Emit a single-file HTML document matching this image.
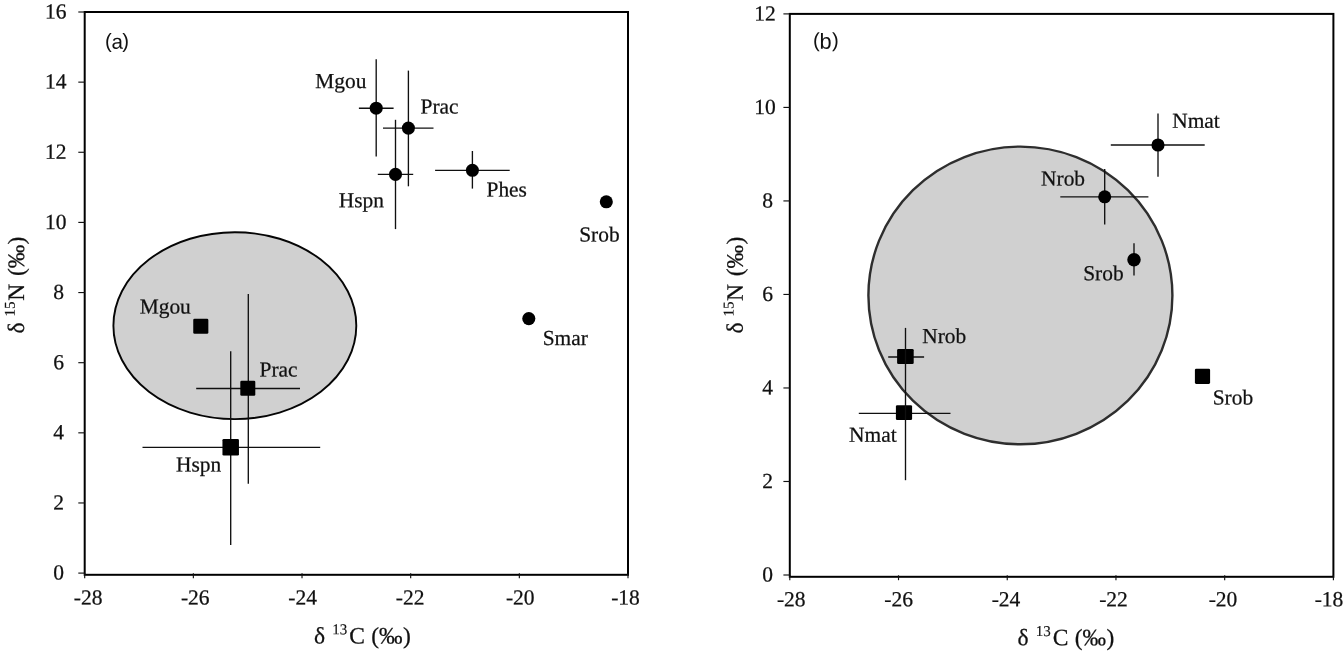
<!DOCTYPE html>
<html lang="en"><head><meta charset="utf-8"><title>Stable isotope biplots</title>
<style>
html,body{margin:0;padding:0;background:#fff;}
body{width:1344px;height:653px;overflow:hidden;}
svg{display:block;}
text.s{font-family:"Liberation Serif", "DejaVu Serif", serif;fill:#111;stroke:#111;stroke-width:0.25px;}
text.n{font-family:"Liberation Sans", "DejaVu Sans", sans-serif;fill:#111;}
</style></head><body>
<svg width="1344" height="653" viewBox="0 0 1344 653">
<rect x="0" y="0" width="1344" height="653" fill="#fff"/>
<ellipse cx="234.85" cy="325.65" rx="121.45" ry="93.45" fill="#d0d0d0" stroke="#050505" stroke-width="1.9"/>
<rect x="84.7" y="12.0" width="543.30" height="562.80" fill="none" stroke="#000" stroke-width="2.0"/>
<line x1="78.30" y1="573.10" x2="84.70" y2="573.10" stroke="#111" stroke-width="1.15"/>
<text class="s" x="63.90" y="579.60" font-size="21.5" text-anchor="end" transform="rotate(0.03 63.90 579.60)">0</text>
<line x1="78.30" y1="502.96" x2="84.70" y2="502.96" stroke="#111" stroke-width="1.15"/>
<text class="s" x="63.90" y="509.46" font-size="21.5" text-anchor="end" transform="rotate(0.03 63.90 509.46)">2</text>
<line x1="78.30" y1="432.83" x2="84.70" y2="432.83" stroke="#111" stroke-width="1.15"/>
<text class="s" x="63.90" y="439.33" font-size="21.5" text-anchor="end" transform="rotate(0.03 63.90 439.33)">4</text>
<line x1="78.30" y1="362.69" x2="84.70" y2="362.69" stroke="#111" stroke-width="1.15"/>
<text class="s" x="63.90" y="369.19" font-size="21.5" text-anchor="end" transform="rotate(0.03 63.90 369.19)">6</text>
<line x1="78.30" y1="292.55" x2="84.70" y2="292.55" stroke="#111" stroke-width="1.15"/>
<text class="s" x="63.90" y="299.05" font-size="21.5" text-anchor="end" transform="rotate(0.03 63.90 299.05)">8</text>
<line x1="78.30" y1="222.41" x2="84.70" y2="222.41" stroke="#111" stroke-width="1.15"/>
<text class="s" x="66.60" y="228.91" font-size="21.5" text-anchor="end" transform="rotate(0.03 66.60 228.91)">10</text>
<line x1="78.30" y1="152.27" x2="84.70" y2="152.27" stroke="#111" stroke-width="1.15"/>
<text class="s" x="66.60" y="158.77" font-size="21.5" text-anchor="end" transform="rotate(0.03 66.60 158.77)">12</text>
<line x1="78.30" y1="82.14" x2="84.70" y2="82.14" stroke="#111" stroke-width="1.15"/>
<text class="s" x="66.60" y="88.64" font-size="21.5" text-anchor="end" transform="rotate(0.03 66.60 88.64)">14</text>
<line x1="78.30" y1="12.00" x2="84.70" y2="12.00" stroke="#111" stroke-width="1.15"/>
<text class="s" x="66.60" y="18.50" font-size="21.5" text-anchor="end" transform="rotate(0.03 66.60 18.50)">16</text>
<line x1="84.70" y1="573.30" x2="84.70" y2="578.20" stroke="#111" stroke-width="1.15"/>
<text class="s" x="88.10" y="604.60" font-size="21.5" text-anchor="middle" transform="rotate(0.03 88.10 604.60)">-28</text>
<line x1="193.36" y1="573.30" x2="193.36" y2="578.20" stroke="#111" stroke-width="1.15"/>
<text class="s" x="195.30" y="604.60" font-size="21.5" text-anchor="middle" transform="rotate(0.03 195.30 604.60)">-26</text>
<line x1="302.02" y1="573.30" x2="302.02" y2="578.20" stroke="#111" stroke-width="1.15"/>
<text class="s" x="302.70" y="604.60" font-size="21.5" text-anchor="middle" transform="rotate(0.03 302.70 604.60)">-24</text>
<line x1="410.68" y1="573.30" x2="410.68" y2="578.20" stroke="#111" stroke-width="1.15"/>
<text class="s" x="410.10" y="604.60" font-size="21.5" text-anchor="middle" transform="rotate(0.03 410.10 604.60)">-22</text>
<line x1="519.34" y1="573.30" x2="519.34" y2="578.20" stroke="#111" stroke-width="1.15"/>
<text class="s" x="520.30" y="604.60" font-size="21.5" text-anchor="middle" transform="rotate(0.03 520.30 604.60)">-20</text>
<line x1="628.00" y1="573.30" x2="628.00" y2="578.20" stroke="#111" stroke-width="1.15"/>
<text class="s" x="625.50" y="604.60" font-size="21.5" text-anchor="middle" transform="rotate(0.03 625.50 604.60)">-18</text>
<line x1="358.90" y1="108.20" x2="393.60" y2="108.20" stroke="#101010" stroke-width="1.35"/>
<line x1="376.20" y1="59.30" x2="376.20" y2="156.40" stroke="#101010" stroke-width="1.35"/>
<circle cx="376.2" cy="108.2" r="6.55" fill="#000"/>
<line x1="383.00" y1="128.10" x2="433.50" y2="128.10" stroke="#101010" stroke-width="1.35"/>
<line x1="408.40" y1="70.60" x2="408.40" y2="186.30" stroke="#101010" stroke-width="1.35"/>
<circle cx="408.4" cy="128.1" r="6.55" fill="#000"/>
<line x1="377.80" y1="174.40" x2="413.20" y2="174.40" stroke="#101010" stroke-width="1.35"/>
<line x1="395.50" y1="119.80" x2="395.50" y2="229.10" stroke="#101010" stroke-width="1.35"/>
<circle cx="395.5" cy="174.4" r="6.55" fill="#000"/>
<line x1="435.10" y1="170.30" x2="509.70" y2="170.30" stroke="#101010" stroke-width="1.35"/>
<line x1="472.40" y1="151.00" x2="472.40" y2="188.60" stroke="#101010" stroke-width="1.35"/>
<circle cx="472.4" cy="170.3" r="6.55" fill="#000"/>
<circle cx="606.3" cy="201.8" r="6.55" fill="#000"/>
<circle cx="528.8" cy="318.6" r="6.55" fill="#000"/>
<rect x="193.25" y="318.75" width="15.1" height="15.1" rx="1.3" fill="#000"/>
<line x1="196.20" y1="388.50" x2="300.00" y2="388.50" stroke="#101010" stroke-width="1.35"/>
<line x1="248.30" y1="293.90" x2="248.30" y2="483.70" stroke="#101010" stroke-width="1.35"/>
<rect x="240.30" y="380.70" width="15.0" height="15.0" rx="1.3" fill="#000"/>
<line x1="142.50" y1="447.30" x2="320.20" y2="447.30" stroke="#101010" stroke-width="1.35"/>
<line x1="230.70" y1="351.30" x2="230.70" y2="545.00" stroke="#101010" stroke-width="1.35"/>
<rect x="222.45" y="439.05" width="16.5" height="16.5" rx="1.3" fill="#000"/>
<text class="s" x="315.30" y="88.00" font-size="21.4" text-anchor="start" transform="rotate(0.03 315.30 88.00)">Mgou</text>
<text class="s" x="420.60" y="113.50" font-size="21.4" text-anchor="start" transform="rotate(0.03 420.60 113.50)">Prac</text>
<text class="s" x="338.80" y="207.30" font-size="21.4" text-anchor="start" transform="rotate(0.03 338.80 207.30)">Hspn</text>
<text class="s" x="486.50" y="196.40" font-size="21.4" text-anchor="start" transform="rotate(0.03 486.50 196.40)">Phes</text>
<text class="s" x="579.20" y="241.60" font-size="21.4" text-anchor="start" transform="rotate(0.03 579.20 241.60)">Srob</text>
<text class="s" x="542.70" y="345.00" font-size="21.4" text-anchor="start" transform="rotate(0.03 542.70 345.00)">Smar</text>
<text class="s" x="139.70" y="313.40" font-size="21.4" text-anchor="start" transform="rotate(0.03 139.70 313.40)">Mgou</text>
<text class="s" x="259.60" y="376.40" font-size="21.4" text-anchor="start" transform="rotate(0.03 259.60 376.40)">Prac</text>
<text class="s" x="176.00" y="471.40" font-size="21.4" text-anchor="start" transform="rotate(0.03 176.00 471.40)">Hspn</text>
<text class="n" y="48.70" transform="rotate(0.03 105.00 48.70)"><tspan x="105.00" dy="-1.0" font-size="20.3">(</tspan><tspan x="111.50" dy="1.0" font-size="20.6">a</tspan><tspan x="122.30" dy="-1.0" font-size="20.3">)</tspan></text>
<text class="s" y="643.40" font-size="23.5" transform="rotate(0.03 314.00 643.40)"><tspan x="314.00">δ</tspan> <tspan x="332.20" dy="-9.2" font-size="15" stroke-width="0.15">13</tspan><tspan x="349.20" dy="9.2">C</tspan> <tspan x="371.30">(</tspan><tspan x="379.10">‰</tspan><tspan x="403.00">)</tspan></text>
<g transform="translate(23.9,333.4) rotate(-90)">
<text class="s" y="0.00" font-size="23.5" transform="rotate(0.03 0.00 0.00)"><tspan x="0.00">δ</tspan> <tspan x="17.00" dy="-9.2" font-size="15" stroke-width="0.15">15</tspan><tspan x="32.60" dy="9.2">N</tspan> <tspan x="57.30">(</tspan><tspan x="65.10">‰</tspan><tspan x="89.00">)</tspan></text>
</g>
<ellipse cx="1020.4" cy="295.45" rx="152.0" ry="148.85" fill="#d0d0d0" stroke="#2e2e2e" stroke-width="2.4"/>
<rect x="789.8" y="13.9" width="543.60" height="562.90" fill="none" stroke="#000" stroke-width="2.0"/>
<line x1="783.40" y1="575.00" x2="789.80" y2="575.00" stroke="#111" stroke-width="1.15"/>
<text class="s" x="773.10" y="581.50" font-size="21.5" text-anchor="end" transform="rotate(0.03 773.10 581.50)">0</text>
<line x1="783.40" y1="481.48" x2="789.80" y2="481.48" stroke="#111" stroke-width="1.15"/>
<text class="s" x="773.10" y="487.98" font-size="21.5" text-anchor="end" transform="rotate(0.03 773.10 487.98)">2</text>
<line x1="783.40" y1="387.97" x2="789.80" y2="387.97" stroke="#111" stroke-width="1.15"/>
<text class="s" x="773.10" y="394.47" font-size="21.5" text-anchor="end" transform="rotate(0.03 773.10 394.47)">4</text>
<line x1="783.40" y1="294.45" x2="789.80" y2="294.45" stroke="#111" stroke-width="1.15"/>
<text class="s" x="773.10" y="300.95" font-size="21.5" text-anchor="end" transform="rotate(0.03 773.10 300.95)">6</text>
<line x1="783.40" y1="200.93" x2="789.80" y2="200.93" stroke="#111" stroke-width="1.15"/>
<text class="s" x="773.10" y="207.43" font-size="21.5" text-anchor="end" transform="rotate(0.03 773.10 207.43)">8</text>
<line x1="783.40" y1="107.42" x2="789.80" y2="107.42" stroke="#111" stroke-width="1.15"/>
<text class="s" x="775.80" y="113.92" font-size="21.5" text-anchor="end" transform="rotate(0.03 775.80 113.92)">10</text>
<line x1="783.40" y1="13.90" x2="789.80" y2="13.90" stroke="#111" stroke-width="1.15"/>
<text class="s" x="775.80" y="20.40" font-size="21.5" text-anchor="end" transform="rotate(0.03 775.80 20.40)">12</text>
<line x1="789.80" y1="575.30" x2="789.80" y2="580.20" stroke="#111" stroke-width="1.15"/>
<text class="s" x="791.30" y="606.20" font-size="21.5" text-anchor="middle" transform="rotate(0.03 791.30 606.20)">-28</text>
<line x1="898.52" y1="575.30" x2="898.52" y2="580.20" stroke="#111" stroke-width="1.15"/>
<text class="s" x="898.60" y="606.20" font-size="21.5" text-anchor="middle" transform="rotate(0.03 898.60 606.20)">-26</text>
<line x1="1007.24" y1="575.30" x2="1007.24" y2="580.20" stroke="#111" stroke-width="1.15"/>
<text class="s" x="1006.00" y="606.20" font-size="21.5" text-anchor="middle" transform="rotate(0.03 1006.00 606.20)">-24</text>
<line x1="1115.96" y1="575.30" x2="1115.96" y2="580.20" stroke="#111" stroke-width="1.15"/>
<text class="s" x="1113.50" y="606.20" font-size="21.5" text-anchor="middle" transform="rotate(0.03 1113.50 606.20)">-22</text>
<line x1="1224.68" y1="575.30" x2="1224.68" y2="580.20" stroke="#111" stroke-width="1.15"/>
<text class="s" x="1223.00" y="606.20" font-size="21.5" text-anchor="middle" transform="rotate(0.03 1223.00 606.20)">-20</text>
<line x1="1333.40" y1="575.30" x2="1333.40" y2="580.20" stroke="#111" stroke-width="1.15"/>
<text class="s" x="1329.00" y="606.20" font-size="21.5" text-anchor="middle" transform="rotate(0.03 1329.00 606.20)">-18</text>
<line x1="1110.80" y1="145.00" x2="1204.70" y2="145.00" stroke="#101010" stroke-width="1.35"/>
<line x1="1158.00" y1="113.50" x2="1158.00" y2="176.80" stroke="#101010" stroke-width="1.35"/>
<circle cx="1158.0" cy="145.0" r="6.55" fill="#000"/>
<line x1="1060.30" y1="196.80" x2="1148.40" y2="196.80" stroke="#101010" stroke-width="1.35"/>
<line x1="1104.70" y1="169.00" x2="1104.70" y2="224.60" stroke="#101010" stroke-width="1.35"/>
<circle cx="1104.7" cy="196.8" r="6.55" fill="#000"/>
<line x1="1134.00" y1="243.20" x2="1134.00" y2="275.60" stroke="#101010" stroke-width="1.35"/>
<circle cx="1134.0" cy="259.7" r="6.75" fill="#000"/>
<line x1="888.20" y1="357.00" x2="924.10" y2="357.00" stroke="#101010" stroke-width="1.35"/>
<rect x="897.10" y="349.05" width="16.6" height="14.9" rx="1.3" fill="#000"/>
<line x1="858.80" y1="413.30" x2="950.50" y2="413.30" stroke="#101010" stroke-width="1.35"/>
<rect x="895.90" y="405.30" width="16.2" height="14.8" rx="1.3" fill="#000"/>
<line x1="905.50" y1="327.90" x2="905.50" y2="480.20" stroke="#101010" stroke-width="1.35"/>
<rect x="1194.90" y="368.80" width="15.2" height="15.1" rx="1.3" fill="#000"/>
<text class="s" x="1172.20" y="127.70" font-size="21.4" text-anchor="start" transform="rotate(0.03 1172.20 127.70)">Nmat</text>
<text class="s" x="1041.10" y="185.50" font-size="21.4" text-anchor="start" transform="rotate(0.03 1041.10 185.50)">Nrob</text>
<text class="s" x="1083.20" y="280.30" font-size="21.4" text-anchor="start" transform="rotate(0.03 1083.20 280.30)">Srob</text>
<text class="s" x="922.30" y="342.90" font-size="21.4" text-anchor="start" transform="rotate(0.03 922.30 342.90)">Nrob</text>
<text class="s" x="849.10" y="441.80" font-size="21.4" text-anchor="start" transform="rotate(0.03 849.10 441.80)">Nmat</text>
<text class="s" x="1212.70" y="404.50" font-size="21.4" text-anchor="start" transform="rotate(0.03 1212.70 404.50)">Srob</text>
<text class="n" y="48.70" transform="rotate(0.03 812.90 48.70)"><tspan x="812.90" dy="-1.7" font-size="20.3">(</tspan><tspan x="819.60" dy="1.7" font-size="21.8">b</tspan><tspan x="831.90" dy="-1.7" font-size="20.3">)</tspan></text>
<text class="s" y="645.20" font-size="23.5" transform="rotate(0.03 1017.50 645.20)"><tspan x="1017.50">δ</tspan> <tspan x="1035.70" dy="-9.2" font-size="15" stroke-width="0.15">13</tspan><tspan x="1052.70" dy="9.2">C</tspan> <tspan x="1074.80">(</tspan><tspan x="1082.60">‰</tspan><tspan x="1106.50">)</tspan></text>
<g transform="translate(742.7,333.6) rotate(-90)">
<text class="s" y="0.00" font-size="23.5" transform="rotate(0.03 0.00 0.00)"><tspan x="0.00">δ</tspan> <tspan x="17.00" dy="-9.2" font-size="15" stroke-width="0.15">15</tspan><tspan x="32.60" dy="9.2">N</tspan> <tspan x="57.30">(</tspan><tspan x="65.10">‰</tspan><tspan x="89.00">)</tspan></text>
</g>
</svg>
</body></html>
